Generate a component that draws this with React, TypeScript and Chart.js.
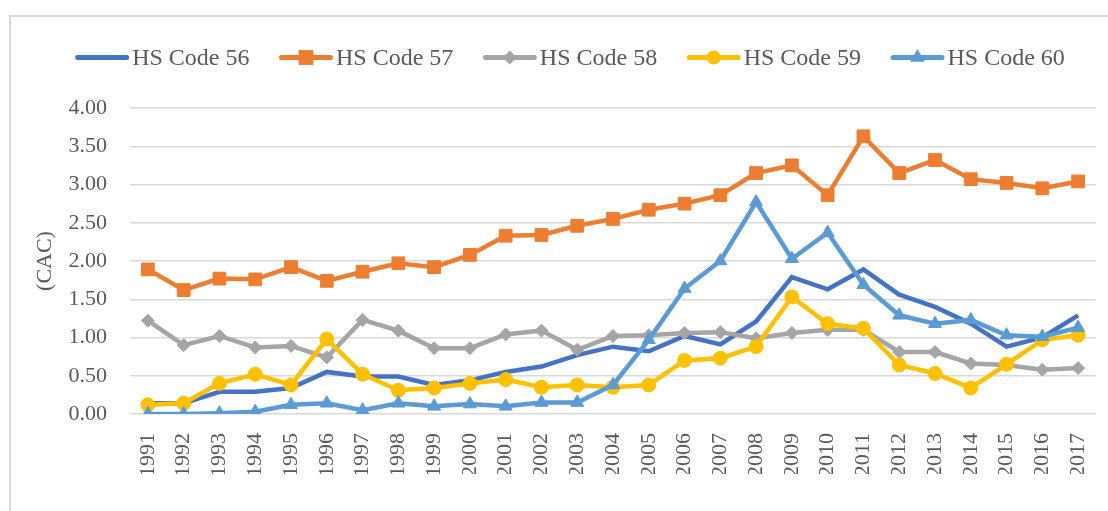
import React, { useEffect, useRef } from "react";
import { Chart, registerables } from "chart.js";

Chart.register(...registerables);

const years = ["1991","1992","1993","1994","1995","1996","1997","1998","1999","2000","2001","2002","2003","2004","2005","2006","2007","2008","2009","2010","2011","2012","2013","2014","2015","2016","2017"];

const hs56 = [0.14,0.14,0.29,0.29,0.34,0.55,0.49,0.49,0.38,0.44,0.55,0.62,0.77,0.88,0.82,1.02,0.91,1.21,1.79,1.63,1.89,1.56,1.40,1.18,0.88,1.00,1.29];
const hs57 = [1.89,1.62,1.77,1.76,1.92,1.74,1.86,1.97,1.92,2.08,2.33,2.34,2.46,2.55,2.67,2.75,2.86,3.15,3.25,2.86,3.63,3.15,3.32,3.07,3.02,2.95,3.04];
const hs58 = [1.22,0.90,1.02,0.87,0.89,0.74,1.23,1.09,0.86,0.86,1.04,1.09,0.84,1.02,1.03,1.06,1.07,0.99,1.06,1.10,1.10,0.81,0.81,0.66,0.64,0.58,0.60];
const hs59 = [0.12,0.14,0.40,0.52,0.38,0.98,0.52,0.31,0.34,0.40,0.45,0.35,0.38,0.35,0.38,0.70,0.73,0.88,1.53,1.18,1.12,0.64,0.53,0.34,0.65,0.97,1.03];
const hs60 = [0.00,0.00,0.01,0.03,0.12,0.14,0.05,0.14,0.10,0.13,0.10,0.15,0.15,0.38,0.97,1.64,2.00,2.77,2.03,2.37,1.69,1.29,1.18,1.23,1.03,1.01,1.13];

const seriesLabels = ["HS Code 56", "HS Code 57", "HS Code 58", "HS Code 59", "HS Code 60"];
const yTicks = [0, 0.5, 1, 1.5, 2, 2.5, 3, 3.5, 4];

const colors = ["#4472C4", "#ED7D31", "#A5A5A5", "#FFC000", "#5B9BD5"];
const styles: any[] = [false, "rect", "rectRot", "circle", "triangle"];
const radii = [0, 9, 6.5, 7, 7.5];
const legendRadii = [0, 10.5, 7, 7, 8.5];

const FONT = "'Liberation Serif', 'Times New Roman', serif";
const TEXT = "#595959";

function drawMarker(ctx: CanvasRenderingContext2D, style: string, x: number, y: number, r: number) {
  ctx.beginPath();
  if (style === "rect") {
    const s = Math.SQRT1_2 * r;
    ctx.rect(x - s, y - s, 2 * s, 2 * s);
  } else if (style === "rectRot") {
    ctx.moveTo(x - r, y);
    ctx.lineTo(x, y - r);
    ctx.lineTo(x + r, y);
    ctx.lineTo(x, y + r);
    ctx.closePath();
  } else if (style === "circle") {
    ctx.arc(x, y, r, 0, Math.PI * 2);
  } else if (style === "triangle") {
    ctx.moveTo(x, y - r);
    ctx.lineTo(x + r * Math.sin(Math.PI / 3), y + r / 2);
    ctx.lineTo(x - r * Math.sin(Math.PI / 3), y + r / 2);
    ctx.closePath();
  }
  ctx.fill();
}

// Legend drawn in the Excel style: line sample with a marker in its middle, text right after.
const legendPlugin = {
  id: "excelLegend",
  afterDraw(chart: any) {
    const ctx: CanvasRenderingContext2D = chart.ctx;
    const ds = chart.data.datasets;
    const lineLen = 54;
    const gapText = 3;
    const gapItem = 29.5;
    const centerX = 570;
    const lineY = 57.5;
    const baseY = 64.5;
    ctx.save();
    ctx.font = `24px ${FONT}`;
    const widths = ds.map((d: any) => lineLen + gapText + ctx.measureText(d.label).width);
    const total = widths.reduce((a: number, b: number) => a + b, 0) + gapItem * (ds.length - 1);
    let x = centerX - total / 2;
    ds.forEach((d: any, i: number) => {
      ctx.strokeStyle = d.borderColor;
      ctx.fillStyle = d.borderColor;
      ctx.lineWidth = 5;
      ctx.lineCap = "round";
      ctx.beginPath();
      ctx.moveTo(x + 2.5, lineY);
      ctx.lineTo(x + lineLen - 2.5, lineY);
      ctx.stroke();
      if (d.pointStyle) drawMarker(ctx, d.pointStyle, x + lineLen / 2, lineY, legendRadii[i]);
      ctx.fillStyle = TEXT;
      ctx.textAlign = "left";
      ctx.textBaseline = "alphabetic";
      ctx.fillText(d.label, x + lineLen + gapText, baseY);
      x += widths[i] + gapItem;
    });
    ctx.restore();
  },
};

export default function App() {
  const ref = useRef<HTMLCanvasElement>(null);

  useEffect(() => {
    if (!ref.current) return;
    const values = [hs56, hs57, hs58, hs59, hs60];
    const datasets = values.map((v, i) => ({
      label: seriesLabels[i],
      data: v,
      borderColor: colors[i],
      backgroundColor: colors[i],
      borderWidth: 4.5,
      tension: 0,
      pointStyle: styles[i],
      pointRadius: radii[i],
      pointBorderWidth: 1,
      pointBorderColor: colors[i],
      pointBackgroundColor: colors[i],
      order: 4 - i,
    }));

    const chart = new Chart(ref.current, {
      type: "line",
      data: { labels: years, datasets },
      plugins: [legendPlugin],
      options: {
        responsive: false,
        animation: false,
        layout: { padding: { top: 0, left: 28, right: 12, bottom: 37 } },
        plugins: {
          tooltip: { enabled: false },
          legend: { display: false },
          title: {
            display: true,
            text: "",
            padding: 0,
            font: { size: 108, lineHeight: 1 },
            position: "top",
          },
        },
        scales: {
          x: {
            type: "category",
            offset: true,
            grid: { display: false, drawTicks: false },
            border: { display: false },
            ticks: {
              minRotation: 90,
              maxRotation: 90,
              padding: 19,
              autoSkip: false,
              color: TEXT,
              font: { family: FONT, size: 22 },
            },
            afterFit: (scale: any) => {
              scale.height = 60;
              scale.paddingLeft = 0;
              scale.paddingRight = 0;
            },
          },
          y: {
            min: 0,
            max: 4,
            afterBuildTicks: (scale: any) => {
              scale.ticks = yTicks.map((v) => ({ value: v }));
            },
            afterFit: (scale: any) => {
              scale.width = 102;
            },
            grid: { color: "#D9D9D9", lineWidth: 1.5, drawTicks: false },
            border: { display: false },
            ticks: {
              padding: 23,
              color: TEXT,
              font: { family: FONT, size: 22 },
              callback: (v: any) => Number(v).toFixed(2),
            },
            title: {
              display: true,
              text: "(CAC)",
              color: TEXT,
              font: { family: FONT, size: 22 },
              padding: { top: 4, bottom: 10 },
            },
          },
        },
      },
    });
    return () => chart.destroy();
  }, []);

  return (
    <div style={{ position: "fixed", left: 0, top: 0, width: 1108, height: 511, background: "#fff" }}>
      <canvas ref={ref} width={1108} height={511} style={{ position: "absolute", left: 0, top: 0 }} />
      <div
        style={{
          position: "absolute",
          left: 9,
          top: 15,
          right: 0,
          bottom: 0,
          borderTop: "2px solid #D9D9D9",
          borderLeft: "2px solid #D9D9D9",
          pointerEvents: "none",
        }}
      />
    </div>
  );
}
